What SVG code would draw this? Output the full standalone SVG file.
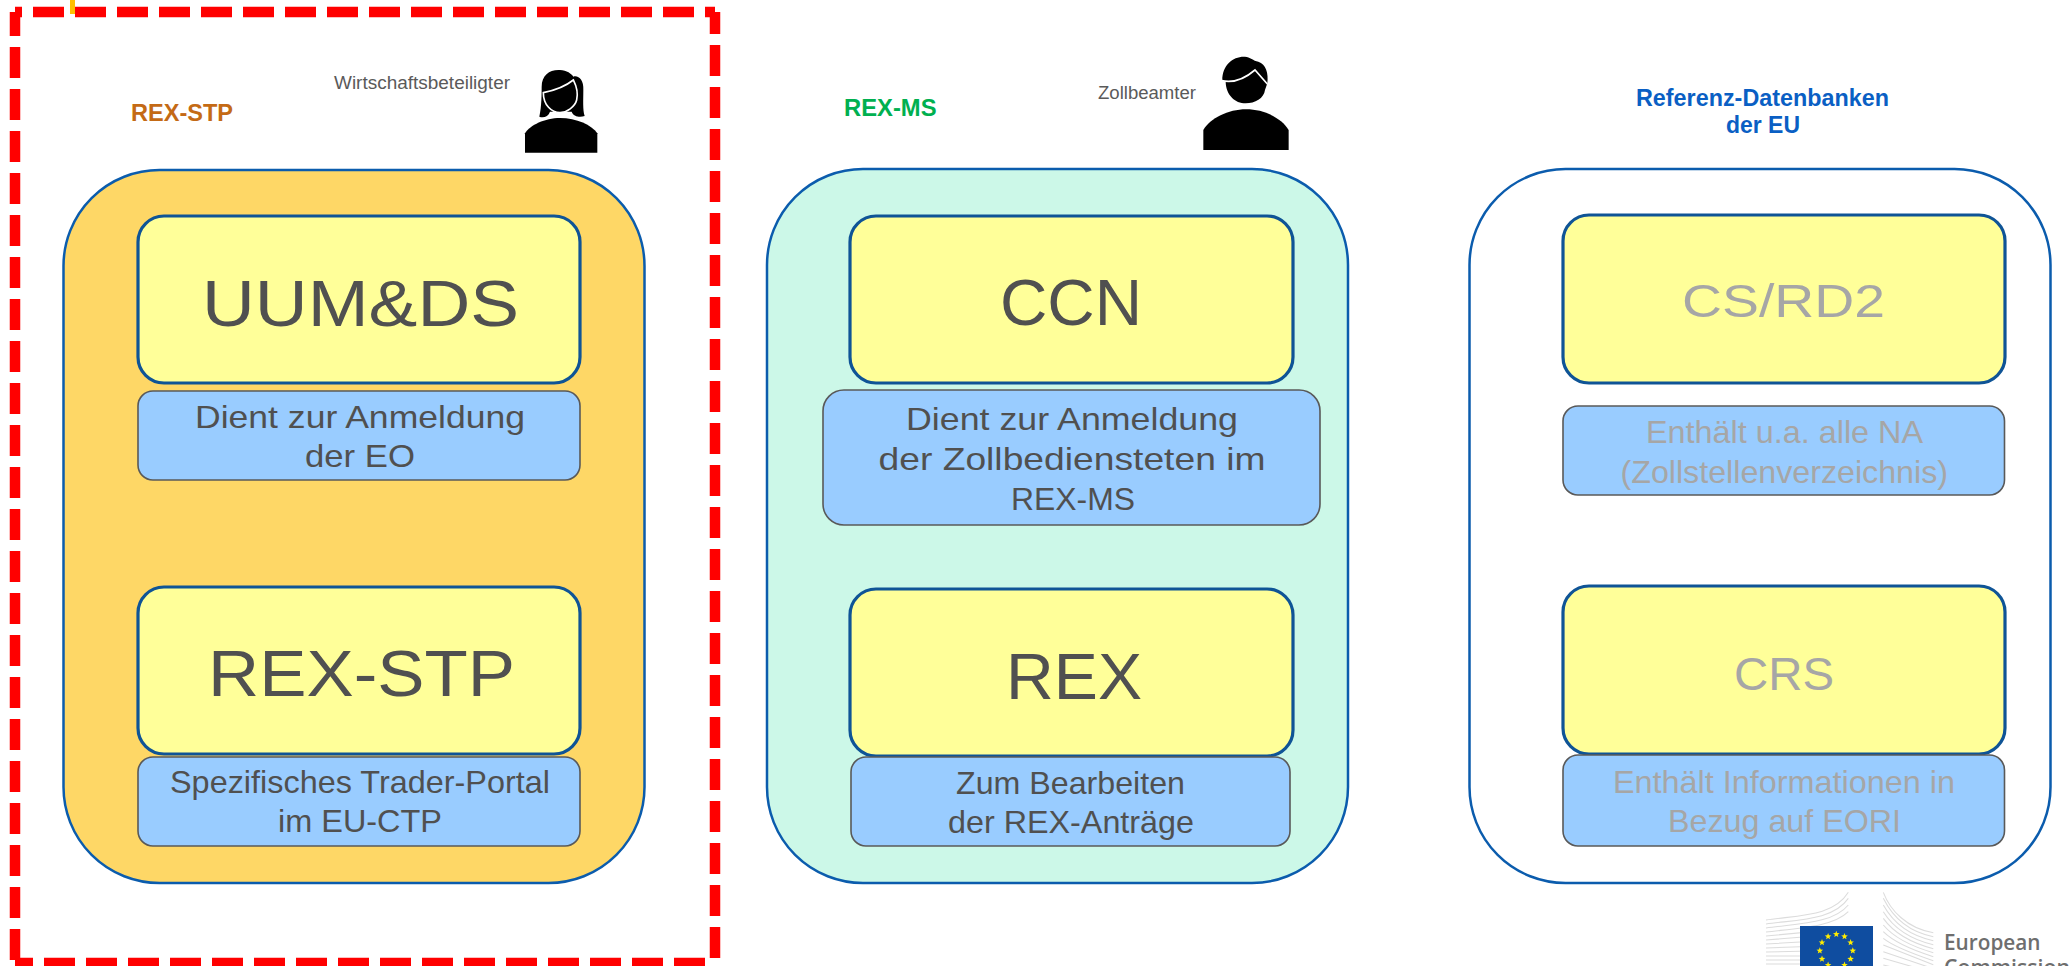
<svg xmlns="http://www.w3.org/2000/svg" width="2072" height="966" viewBox="0 0 2072 966">
<style>
text{font-family:"Liberation Sans",Arial,sans-serif;fill:#505050}
.panel{stroke:#0b5cad;stroke-width:2.5}
.sys{fill:#ffff99;stroke:#0f5496;stroke-width:3.2}
.note{fill:#99ccff;stroke:#595959;stroke-width:1.6}
.big{font-size:64px}
.mid{font-size:46px;fill:#a6a6a6}
.body{font-size:32px}
.dim{fill:#a6a6a6}
.head{font-size:23px;font-weight:bold}
.small{font-size:17.5px;fill:#5a5a5a}
.dash{fill:none;stroke:#ff0000;stroke-width:10.5;stroke-dasharray:31 11}
.wing{fill:none;stroke:#dcdcdc;stroke-width:3.2}
.ec{font-family:"Open Sans","Liberation Sans",sans-serif;font-weight:600;fill:#6e6e6e;font-size:21px}
</style>
<defs>
<polygon id="star" points="0,-3.4 0.9,-1.1 3.3,-1 1.4,0.5 2,2.8 0,1.5 -2,2.8 -1.4,0.5 -3.3,-1 -0.9,-1.1" fill="#ffed00"/>
</defs>
<rect width="2072" height="966" fill="#ffffff"/>

<g id="highlight-frame">
<rect x="70" y="0" width="5" height="14" fill="#ffc000"/>
<line class="dash" x1="15" y1="12" x2="715" y2="12" stroke-dashoffset="24"/>
<line class="dash" x1="15" y1="12" x2="15" y2="963" stroke-dashoffset="7"/>
<line class="dash" x1="715" y1="12" x2="715" y2="963" stroke-dashoffset="9"/>
<line class="dash" x1="15" y1="963" x2="715" y2="963" stroke-dashoffset="13"/>
</g>

<g id="rex-stp-panel">
<rect class="panel" x="63.500" y="170" width="581" height="713" rx="96" ry="96" fill="#fed766"/>
<text class="head" x="131" y="120.500" style="fill:#c46a15" textLength="102" lengthAdjust="spacingAndGlyphs">REX-STP</text>
<text class="small" x="334" y="89" textLength="176" lengthAdjust="spacingAndGlyphs">Wirtschaftsbeteiligter</text>
</g>
<g id="person-woman" transform="translate(510,50) scale(0.3333)">
<path d="M88,200C95,170 95,130 95,110C95,75 120,58 150,60C170,60 185,72 190,80C205,75 222,90 220,120C220,150 218,180 224,198C210,203 190,200 185,185L120,185C115,200 100,205 88,200Z" fill="#000"/>
<path d="M100,128C130,122 165,110 190,90C200,110 205,130 200,150C195,170 170,188 150,188C125,188 100,165 100,128Z" fill="#000" stroke="#fff" stroke-width="5"/>
<path d="M45,308L45,250C60,225 105,204 150,204C200,204 245,225 262,250L262,308Z" fill="#000"/>
</g>
<g id="uumds">
<rect class="sys" x="138" y="216" width="442" height="167" rx="26" ry="26"/>
<text class="big" x="202" y="326" textLength="317" lengthAdjust="spacingAndGlyphs">UUM&amp;DS</text>
</g>
<g id="uumds-note">
<rect class="note" x="138" y="391" width="442" height="89" rx="15" ry="15"/>
<text class="body" x="195" y="428" textLength="330" lengthAdjust="spacingAndGlyphs">Dient zur Anmeldung</text>
<text class="body" x="305" y="467" textLength="110" lengthAdjust="spacingAndGlyphs">der EO</text>
</g>
<g id="rex-stp">
<rect class="sys" x="138" y="587" width="442" height="167" rx="26" ry="26"/>
<text class="big" x="208" y="696" textLength="307" lengthAdjust="spacingAndGlyphs">REX-STP</text>
</g>
<g id="rex-stp-note">
<rect class="note" x="138" y="757" width="442" height="89" rx="15" ry="15"/>
<text class="body" x="170" y="793" textLength="380" lengthAdjust="spacingAndGlyphs">Spezifisches Trader-Portal</text>
<text class="body" x="278" y="832" textLength="164" lengthAdjust="spacingAndGlyphs">im EU-CTP</text>
</g>

<g id="rex-ms-panel">
<rect class="panel" x="767" y="169" width="581" height="714" rx="96" ry="96" fill="#ccf8e8"/>
<text class="head" x="844" y="115.500" style="fill:#00b050" textLength="92.500" lengthAdjust="spacingAndGlyphs">REX-MS</text>
<text class="small" x="1098" y="99" textLength="98" lengthAdjust="spacingAndGlyphs">Zollbeamter</text>
</g>
<g id="person-man" transform="translate(1190,50) scale(0.3333)">
<path d="M97,90C97,45 130,18 165,20C180,20 190,33 205,35C228,42 236,70 232,100L225,120C222,145 195,160 167,160C135,160 108,135 107,95Z" fill="#000"/>
<path d="M95,92C130,100 160,90 195,60L232,102" fill="none" stroke="#fff" stroke-width="5"/>
<path d="M40,300L40,240C60,205 115,178 168,178C225,178 275,205 296,240L296,300Z" fill="#000"/>
</g>
<g id="ccn">
<rect class="sys" x="850" y="216" width="443" height="167" rx="26" ry="26"/>
<text class="big" x="1000" y="325" textLength="142" lengthAdjust="spacingAndGlyphs">CCN</text>
</g>
<g id="ccn-note">
<rect class="note" x="823" y="390" width="497" height="135" rx="21" ry="21"/>
<text class="body" x="906" y="430" textLength="332" lengthAdjust="spacingAndGlyphs">Dient zur Anmeldung</text>
<text class="body" x="878.500" y="470" textLength="387" lengthAdjust="spacingAndGlyphs">der Zollbediensteten im</text>
<text class="body" x="1011" y="510" textLength="124" lengthAdjust="spacingAndGlyphs">REX-MS</text>
</g>
<g id="rex">
<rect class="sys" x="850" y="589" width="443" height="167" rx="26" ry="26"/>
<text class="big" x="1006" y="699" textLength="136" lengthAdjust="spacingAndGlyphs">REX</text>
</g>
<g id="rex-note">
<rect class="note" x="851" y="757" width="439" height="89" rx="15" ry="15"/>
<text class="body" x="956" y="794" textLength="229" lengthAdjust="spacingAndGlyphs">Zum Bearbeiten</text>
<text class="body" x="948" y="833" textLength="246" lengthAdjust="spacingAndGlyphs">der REX-Anträge</text>
</g>

<g id="ref-panel">
<rect class="panel" x="1469.500" y="169" width="581" height="714" rx="96" ry="96" fill="#ffffff"/>
<text class="head" x="1636" y="106" style="fill:#0a5fc4" textLength="253" lengthAdjust="spacingAndGlyphs">Referenz-Datenbanken</text>
<text class="head" x="1726" y="133" style="fill:#0a5fc4" textLength="74" lengthAdjust="spacingAndGlyphs">der EU</text>
</g>
<g id="csrd2">
<rect class="sys" x="1563" y="215" width="442" height="168" rx="26" ry="26"/>
<text class="mid" x="1682" y="317" textLength="203" lengthAdjust="spacingAndGlyphs">CS/RD2</text>
</g>
<g id="csrd2-note">
<rect class="note" x="1563" y="406" width="441.500" height="89" rx="15" ry="15"/>
<text class="body dim" x="1646" y="443" textLength="277" lengthAdjust="spacingAndGlyphs">Enthält u.a. alle NA</text>
<text class="body dim" x="1620.500" y="483" textLength="327.500" lengthAdjust="spacingAndGlyphs">(Zollstellenverzeichnis)</text>
</g>
<g id="crs">
<rect class="sys" x="1563" y="586" width="442" height="168" rx="26" ry="26"/>
<text class="mid" x="1734" y="690" textLength="100" lengthAdjust="spacingAndGlyphs">CRS</text>
</g>
<g id="crs-note">
<rect class="note" x="1563" y="755" width="441.500" height="91" rx="15" ry="15"/>
<text class="body dim" x="1613" y="793" textLength="342" lengthAdjust="spacingAndGlyphs">Enthält Informationen in</text>
<text class="body dim" x="1668" y="832" textLength="233" lengthAdjust="spacingAndGlyphs">Bezug auf EORI</text>
</g>

<g id="ec-logo">
<g transform="translate(1720,860) scale(0.3333)">
<path class="wing" d="M138,180C240,165 340,170 385,97M138,192C240,178 340,180 385,115M138,204C240,190 340,190 385,135M138,216C240,204 340,200 385,155M138,228L385,205M138,240L240,232M138,252L240,246M138,264L240,260M138,276L240,274M138,288L240,288M138,300L240,300M138,312L240,312"/>
<path class="wing" d="M490,97C510,150 560,205 640,218M490,115C515,165 560,215 640,230M490,135C515,180 560,225 640,242M490,155C515,195 560,235 640,254M490,175C515,210 560,245 640,266M490,195C515,225 560,255 640,278M490,215C515,240 560,265 640,290M490,235C515,255 560,275 640,302M490,255L640,314M490,275L640,326M490,295L640,338M490,315L640,350"/>
</g>
<rect x="1800" y="926" width="73" height="40" fill="#0f4da0"/>
<use href="#star" x="1836.300" y="934.200"/>
<use href="#star" x="1844.500" y="936.400"/>
<use href="#star" x="1850.600" y="942.500"/>
<use href="#star" x="1852.800" y="950.700"/>
<use href="#star" x="1850.600" y="958.900"/>
<use href="#star" x="1844.500" y="965"/>
<use href="#star" x="1828.100" y="965"/>
<use href="#star" x="1822" y="958.900"/>
<use href="#star" x="1819.800" y="950.700"/>
<use href="#star" x="1822" y="942.500"/>
<use href="#star" x="1828.100" y="936.400"/>
<text class="ec" x="1944" y="950" textLength="96.500" lengthAdjust="spacingAndGlyphs">European</text>
<text class="ec" x="1944" y="975" textLength="126" lengthAdjust="spacingAndGlyphs">Commission</text>
</g>
</svg>
